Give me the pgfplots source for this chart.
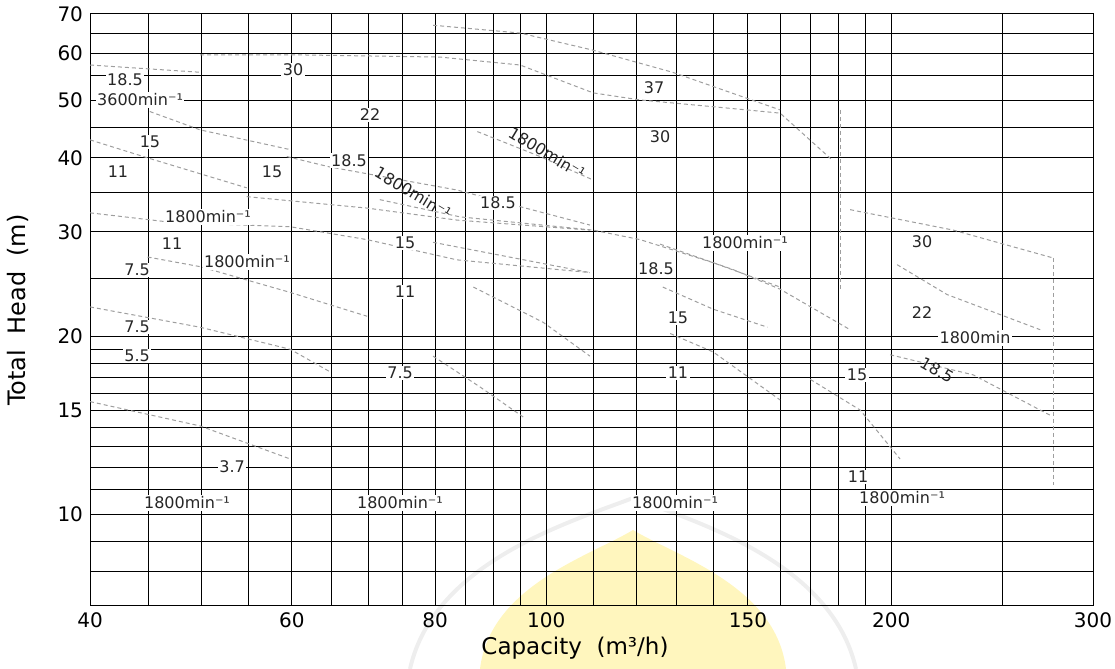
\documentclass[border=0pt]{standalone}
\usepackage{fontspec}
\setmainfont{DejaVu Sans}
\usepackage{pgfplots}
\pgfplotsset{compat=1.18}
\definecolor{curve}{gray}{0.62}
\definecolor{wmyellow}{RGB}{255,246,190}
\definecolor{wmgray}{RGB}{238,238,238}
\tikzset{lbl/.style={font=\fontsize{8}{10}\selectfont, fill=white, inner sep=0.7pt, text=black!85},
         pc/.style={curve, line width=0.5pt, dash pattern=on 2pt off 1.5pt, mark=none}}
\begin{document}
\begin{tikzpicture}[x=1pt,y=1pt]
\useasboundingbox (-45,-31.5) rectangle (512.5,303);
% faint watermark behind the chart
\draw[wmgray, line width=2pt] (160,-31.5) .. controls (172,22) and (240,42) .. (271.5,54) .. controls (303,42) and (371,22) .. (383,-31.5);
\fill[wmyellow] (195,-31.5) .. controls (200,10) and (250,25) .. (271.5,38) .. controls (293,25) and (343,10) .. (348,-31.5) -- cycle;
\begin{axis}[
  xmode=log, ymode=log,
  scale only axis, width=501.5pt, height=296pt,
  xmin=40, xmax=300, ymin=7, ymax=70,
  xtick={40,60,80,100,150,200,300},
  xticklabels={40,60,80,100,150,200,300},
  minor xtick={45,50,55,65,70,75,85,90,95,110,120,130,140,160,170,180,190,250},
  ytick={10,15,20,30,40,50,60,70},
  yticklabels={10,15,20,30,40,50,60,70},
  minor ytick={8,9,11,12,13,14,16,17,18,19,25,35,45,55,65},
  grid=both,
  major grid style={black, line width=0.5pt},
  minor grid style={black, line width=0.5pt},
  major tick length=0pt, minor tick length=0pt,
  axis line style={black, line width=0.5pt},
  ticklabel style={font=\fontsize{10}{12}\selectfont},
  /pgf/number format/assume math mode=true,
  xlabel={Capacity\ \ (m³/h)},
  ylabel={Total\ \ Head\ \ (m)},
  xlabel style={at={(axis description cs:0.4835,-0.071)}, anchor=center, font=\fontsize{11.5}{13}\selectfont},
  ylabel style={at={(axis description cs:-0.072,0.5)}, anchor=center, font=\fontsize{12}{14}\selectfont},
]
% faint pump performance curves
\addplot[pc] coordinates {(40,57.4)(49.9,55.8)};
\addplot[pc] coordinates {(49.9,59.7)(61.0,59.7)(80.8,59.2)(94.9,57.4)(109.9,51.5)(120.8,50.1)(139.9,48.8)(160.0,47.6)(177.6,39.7)};
\addplot[pc] coordinates {(180.5,48.2)(180.5,24.0)};
\addplot[pc] coordinates {(79.7,67.0)(94.9,65.0)(109.9,60.8)(128.9,55.8)(160,48.2)};
\addplot[pc] coordinates {(45.1,47.9)(49.9,44.6)(59.8,41.3)};
\addplot[pc] coordinates {(40,42.9)(44.9,40.0)(54.8,35.6)};
\addplot[pc] coordinates {(59.4,40.2)(64.8,38.6)(83.6,35.3)(109.2,30.8)};
\addplot[pc] coordinates {(54.8,34.4)(69.8,32.9)(83.6,31.4)(109.2,30.2)};
\addplot[pc] coordinates {(40,32.3)(47.3,31.1)(59.8,30.6)(69.8,29.1)(83.6,26.9)(109.2,25.6)};
\addplot[pc] coordinates {(71.6,34.0)(84.1,31.8)(109.9,30.2)(120.8,29.1)(139.9,26.6)(160.0,24.2)};
\addplot[pc] coordinates {(87.1,44.3)(98.8,40.2)(109.9,36.7)};
\addplot[pc] coordinates {(184.2,32.7)(226.6,30.2)(276.9,27.1)};
\addplot[pc] coordinates {(276.9,27.1)(276.9,11.2)};
\addplot[pc] coordinates {(202.4,26.4)(223.8,23.5)(269.8,20.5)};
\addplot[pc] coordinates {(199.6,18.6)(235.8,17.2)(275.2,14.7)};
\addplot[pc] coordinates {(40,22.4)(49.9,20.7)(59.8,19.0)(64.8,17.4)};
\addplot[pc] coordinates {(44.9,27.2)(49.9,26.2)(59.8,23.7)(69.8,21.6)};
\addplot[pc] coordinates {(40,15.5)(49.9,14.1)(59.8,12.4)};
\addplot[pc] coordinates {(79.7,28.8)(109.2,25.6)};
\addplot[pc] coordinates {(86.4,24.2)(99.4,21.1)(109.2,18.5)};
\addplot[pc] coordinates {(79.7,18.5)(87.6,16.4)(95.5,14.6)};
\addplot[pc] coordinates {(125.7,28.6)(145.6,25.9)(160,24.0)(184.2,20.5)};
\addplot[pc] coordinates {(126.4,24.2)(139.9,22.2)(156.0,20.7)};
\addplot[pc] coordinates {(128.3,20.2)(139.9,18.8)(160,15.6)};
\addplot[pc] coordinates {(170,16.9)(187.9,15.0)(203.6,12.4)};
% labels
\node[lbl] at (rel axis cs:0.0349,0.8885) {18.5};
\node[lbl] at (rel axis cs:0.0499,0.8547) {3600min⁻¹};
\node[lbl] at (rel axis cs:0.2024,0.9054) {30};
\node[lbl] at (rel axis cs:0.2792,0.8294) {22};
\node[lbl] at (rel axis cs:0.0598,0.7838) {15};
\node[lbl] at (rel axis cs:0.0279,0.7331) {11};
\node[lbl] at (rel axis cs:0.1815,0.7331) {15};
\node[lbl] at (rel axis cs:0.2582,0.7520) {18.5};
\node[lbl, fill=none, rotate=-31] at (rel axis cs:0.3220,0.6980) {1800min⁻¹};
\node[lbl] at (rel axis cs:0.4068,0.6807) {18.5};
\node[lbl] at (rel axis cs:0.1176,0.6571) {1800min⁻¹};
\node[lbl] at (rel axis cs:0.0818,0.6115) {11};
\node[lbl] at (rel axis cs:0.1565,0.5811) {1800min⁻¹};
\node[lbl] at (rel axis cs:0.0469,0.5676) {7.5};
\node[lbl] at (rel axis cs:0.3141,0.6132) {15};
\node[lbl] at (rel axis cs:0.3141,0.5304) {11};
\node[lbl] at (rel axis cs:0.0469,0.4713) {7.5};
\node[lbl] at (rel axis cs:0.0469,0.4223) {5.5};
\node[lbl] at (rel axis cs:0.3091,0.3936) {7.5};
\node[lbl] at (rel axis cs:0.1416,0.2348) {3.7};
\node[lbl] at (rel axis cs:0.0967,0.1740) {1800min⁻¹};
\node[lbl] at (rel axis cs:0.3090,0.1740) {1800min⁻¹};
\node[lbl] at (rel axis cs:0.5833,0.1740) {1800min⁻¹};
\node[lbl] at (rel axis cs:0.8096,0.1824) {1800min⁻¹};
\node[lbl] at (rel axis cs:0.5623,0.8750) {37};
\node[lbl] at (rel axis cs:0.5683,0.7922) {30};
\node[lbl, fill=none, rotate=-31] at (rel axis cs:0.4556,0.7652) {1800min⁻¹};
\node[lbl] at (rel axis cs:0.6530,0.6132) {1800min⁻¹};
\node[lbl] at (rel axis cs:0.5643,0.5693) {18.5};
\node[lbl] at (rel axis cs:0.5862,0.4865) {15};
\node[lbl] at (rel axis cs:0.5862,0.3936) {11};
\node[lbl] at (rel axis cs:0.8295,0.6149) {30};
\node[lbl] at (rel axis cs:0.8295,0.4949) {22};
\node[lbl] at (rel axis cs:0.8824,0.4527) {1800min};
\node[lbl, fill=none, rotate=-30] at (rel axis cs:0.8445,0.3986) {18.5};
\node[lbl] at (rel axis cs:0.7647,0.3902) {15};
\node[lbl] at (rel axis cs:0.7657,0.2179) {11};
\end{axis}
\end{tikzpicture}
\end{document}
